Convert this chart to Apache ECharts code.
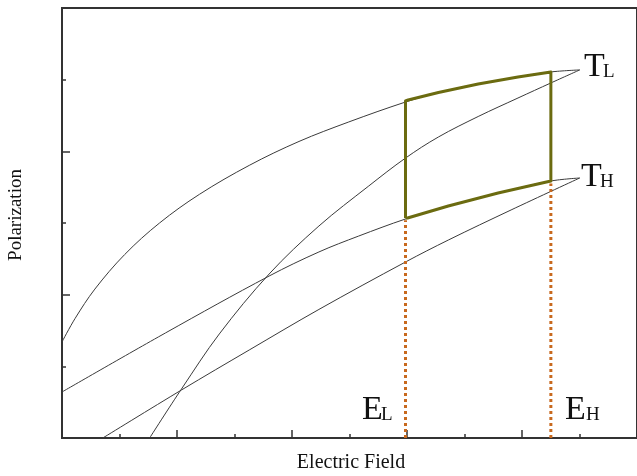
<!DOCTYPE html>
<html>
<head>
<meta charset="utf-8">
<script src="https://cdn.jsdelivr.net/npm/echarts@6/dist/echarts.min.js"></script>
<style>
html, body { margin: 0; padding: 0; background: #fff; }
#chart { width: 637px; height: 476px; }
</style>
</head>
<body>
<div id="chart"></div>
<script>
// hysteresis branches, [E, P]
var lowTempUpper = [[0,0.670],[0.113,0.833],[0.286,1.039],[0.545,1.280],[0.848,1.500],[1.195,1.700],[1.628,1.902],[2.061,2.069],[2.494,2.205],[2.987,2.344],[3.273,2.410],[3.619,2.470],[3.965,2.519],[4.251,2.554],[4.502,2.568]];
var lowTempLower = [[0.762,0],[1.039,0.342],[1.368,0.726],[1.801,1.144],[2.234,1.479],[2.667,1.758],[2.987,1.953],[3.273,2.100],[3.619,2.243],[3.965,2.372],[4.251,2.477],[4.502,2.568]];
var highTempUpper = [[0,0.321],[0.900,0.733],[1.801,1.130],[2.234,1.298],[2.580,1.409],[2.987,1.528],[3.359,1.619],[3.792,1.709],[4.251,1.793],[4.502,1.814]];
var highTempLower = [[0.355,0],[1.039,0.335],[1.628,0.614],[2.234,0.897],[2.987,1.228],[3.359,1.381],[3.905,1.591],[4.502,1.814]];
// Ericsson cycle between E_L/E_H and T_L/T_H
var cycle = [[2.987,1.535],[2.987,2.351],[3.01,2.358],[3.273,2.410],[3.619,2.470],[3.965,2.519],[4.251,2.554],[4.251,1.793],[3.792,1.709],[3.359,1.619],[3.005,1.535],[2.987,1.535]];
var fieldLow = [[2.987,0],[2.987,1.52]];
var fieldHigh = [[4.251,0],[4.251,1.775]];

var dom = document.getElementById('chart');
var myChart = echarts.init(dom);

var serif = '"Liberation Serif", "DejaVu Serif", serif';
function thin(data) {
	return {
		type: 'line', data: data, smooth: 0.35, showSymbol: false, silent: true,
		lineStyle: { color: '#3a3a3a', width: 1 }
	};
}
function txt(x, y, s, size) {
	return { type: 'text', x: x, y: y, style: { text: s, font: size + 'px ' + serif, fill: '#111', align: 'left', verticalAlign: 'middle' } };
}

var option = {
	animation: false,
	grid: { left: 62, top: 8, width: 577, height: 430, show: true, borderColor: '#333', borderWidth: 2 },
	xAxis: {
		type: 'value', min: 0, max: 5, interval: 1,
		axisLine: { lineStyle: { color: '#333', width: 2 } },
		axisTick: { inside: true, length: 8, lineStyle: { color: '#333', width: 1.5 } },
		minorTick: { show: true, splitNumber: 2, length: 4, lineStyle: { color: '#333', width: 1.5 } },
		axisLabel: { show: false },
		splitLine: { show: false }
	},
	yAxis: {
		type: 'value', min: 0, max: 3, interval: 1,
		axisLine: { lineStyle: { color: '#333', width: 2 } },
		axisTick: { inside: true, length: 8, lineStyle: { color: '#333', width: 1.5 } },
		minorTick: { show: true, splitNumber: 2, length: 4, lineStyle: { color: '#333', width: 1.5 } },
		axisLabel: { show: false },
		splitLine: { show: false }
	},
	graphic: [
		{ type: 'text', x: 351, y: 463, style: { text: 'Electric Field', font: '20px ' + serif, fill: '#111', align: 'center', verticalAlign: 'middle' } },
		{ type: 'text', x: 16, y: 215, rotation: Math.PI / 2, style: { text: 'Polarization', font: '19px ' + serif, fill: '#111', align: 'center', verticalAlign: 'middle' } },
		txt(584, 67, 'T', 34), txt(603, 72, 'L', 19),
		txt(581, 177, 'T', 34), txt(600, 182, 'H', 19),
		txt(362, 410, 'E', 34), txt(381, 415, 'L', 19),
		txt(565, 410, 'E', 34), txt(586, 415, 'H', 19)
	],
	series: [
		thin(lowTempUpper),
		thin(lowTempLower),
		thin(highTempUpper),
		thin(highTempLower),
		{ type: 'line', data: fieldLow, showSymbol: false, silent: true, lineStyle: { color: '#c8691e', width: 3, type: [3, 3] } },
		{ type: 'line', data: fieldHigh, showSymbol: false, silent: true, lineStyle: { color: '#c8691e', width: 3, type: [3, 3] } },
		{ type: 'line', data: cycle, showSymbol: false, silent: true, lineStyle: { color: '#6b6b10', width: 3, join: 'round' } }
	]
};

myChart.setOption(option, true);
window.onresize = function () {
	myChart.resize();
};
</script>
</body>
</html>
